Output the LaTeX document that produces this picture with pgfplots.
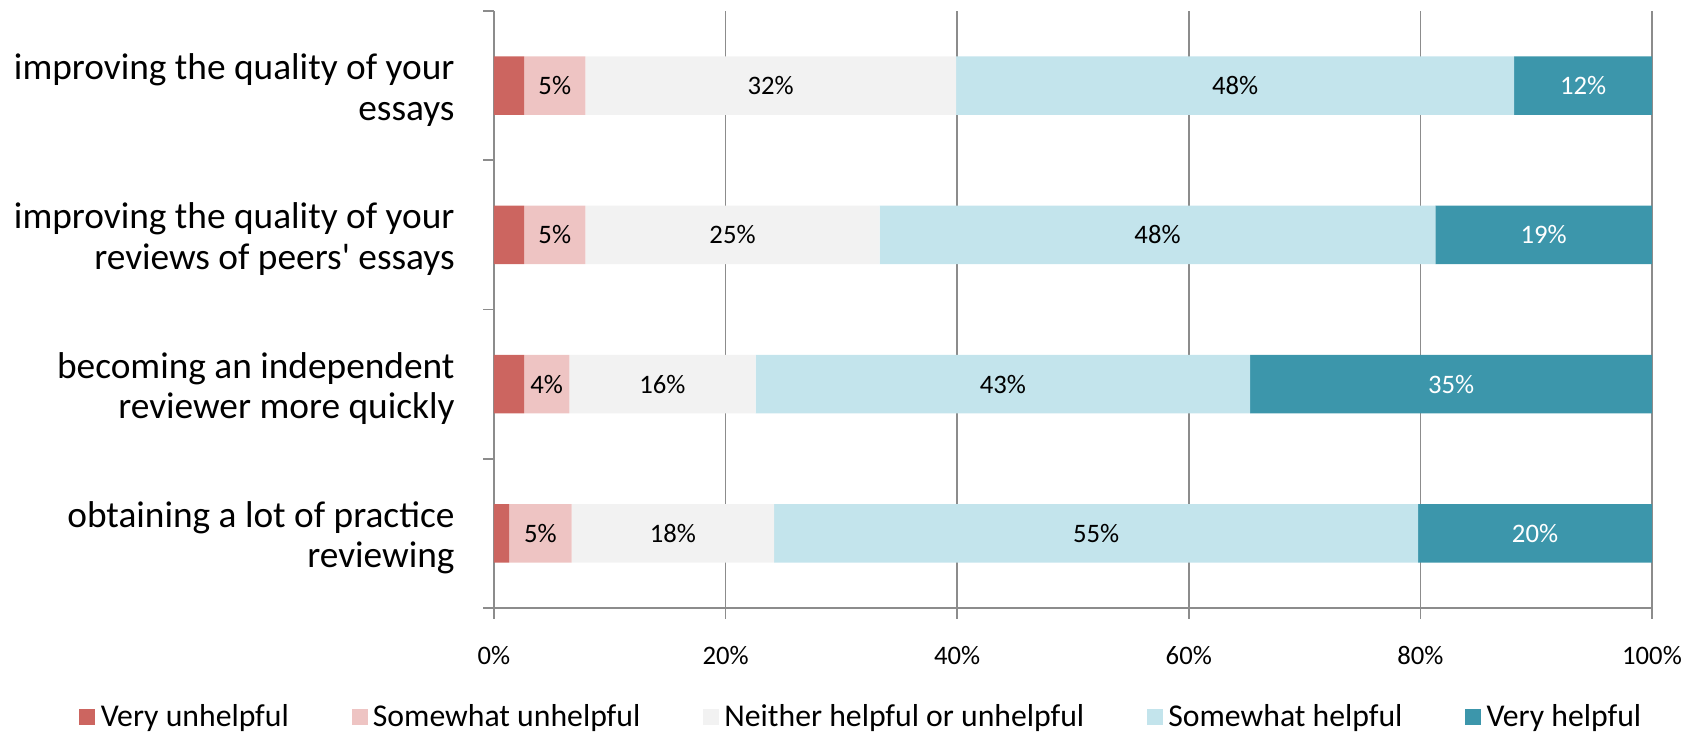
\documentclass[border=0pt]{standalone}
\usepackage{fontspec}
\setmainfont{Carlito}
\usepackage{pgfplots}
\usepackage{pgfplotstable}
\pgfplotsset{compat=1.18}
\definecolor{c1}{HTML}{CC6560}
\definecolor{c2}{HTML}{EEC4C3}
\definecolor{c3}{HTML}{F2F2F2}
\definecolor{c4}{HTML}{C3E4EC}
\definecolor{c5}{HTML}{3C96AB}
\definecolor{gridc}{HTML}{8C8C8C}

% y: 3 = essays, 2 = reviews, 1 = independent reviewer, 0 = practice
\pgfplotstableread{
y v lab
3 2.6 3
2 2.6 3
1 2.6 3
0 1.3 1
}\tA
\pgfplotstableread{
y v lab
3 5.3 5
2 5.3 5
1 3.9 4
0 5.4 5
}\tB
\pgfplotstableread{
y v lab
3 32.0 32
2 25.4 25
1 16.1 16
0 17.5 18
}\tC
\pgfplotstableread{
y v lab
3 48.2 48
2 48.0 48
1 42.7 43
0 55.6 55
}\tD
\pgfplotstableread{
y v lab
3 11.9 12
2 18.7 19
1 34.7 35
0 20.2 20
}\tE

\pgfplotsset{
  sq/.style={legend image code/.code={\fill[##1] (0pt,-3pt) rectangle (6pt,3pt);}},
  lbl/.style={
    nodes near coords={\pgfplotspointmeta\%},
    point meta=explicit symbolic,
    every node near coord/.append style={anchor=center,
      font=\fontsize{10}{12}\selectfont, text=#1},
  },
}

\begin{document}
\begin{tikzpicture}
\begin{axis}[
  scale only axis,
  width=434.25pt, height=223.875pt,
  xbar stacked,
  bar width=22pt,
  xmin=0, xmax=100,
  ymin=-0.5, ymax=3.5,
  axis x line*=bottom,
  axis y line*=left,
  axis line style={gridc, line width=0.6pt},
  xmajorgrids,
  major grid style={gridc, line width=0.6pt},
  tick style={gridc, line width=0.6pt},
  tick align=outside,
  major tick length=4pt,
  xtick={0,20,40,60,80,100},
  xticklabels={0\%,20\%,40\%,60\%,80\%,100\%},
  x tick label style={font=\fontsize{10}{12}\selectfont, inner sep=0pt, yshift=-10pt},
  ytick={-0.5,0.5,1.5,2.5,3.5},
  yticklabels={},
  extra y ticks={0,1,2,3},
  extra y tick labels={{obtaining a lot of practice\\reviewing},{becoming an independent\\reviewer more quickly},{improving the quality of your\\reviews of peers\textquotesingle{} essays},{improving the quality of your\\essays}},
  extra y tick style={major tick length=0pt, tick style={draw=none}},
  y tick label style={align=right, font=\fontsize{14}{15.2}\selectfont, inner sep=0pt, xshift=-14.6pt, yshift=-1.6pt},
  legend columns=5,
  legend style={at={(axis description cs:0.3187,-0.1826)}, anchor=center, draw=none,
    font=\fontsize{11.9}{14}\selectfont,
    /tikz/every odd column/.append style={column sep=0pt},
    /tikz/every even column/.append style={column sep=21.5pt}},
]
\addplot[fill=c1, draw=none, sq] table[x=v, y=y] {\tA};
\addlegendentry{Very unhelpful}
\addplot[fill=c2, draw=none, sq, lbl=black] table[x=v, y=y, meta=lab] {\tB};
\addlegendentry{Somewhat unhelpful}
\addplot[fill=c3, draw=none, sq, lbl=black] table[x=v, y=y, meta=lab] {\tC};
\addlegendentry{Neither helpful or unhelpful}
\addplot[fill=c4, draw=none, sq, lbl=black] table[x=v, y=y, meta=lab] {\tD};
\addlegendentry{Somewhat helpful}
\addplot[fill=c5, draw=none, sq, lbl=white] table[x=v, y=y, meta=lab] {\tE};
\addlegendentry{Very helpful}
\coordinate (A) at (rel axis cs:0,0);
\end{axis}
\pgfresetboundingbox
\path ([shift={(-185.25pt,-48pt)}]A) rectangle ++(638.25pt,276pt);
\end{tikzpicture}
\end{document}
